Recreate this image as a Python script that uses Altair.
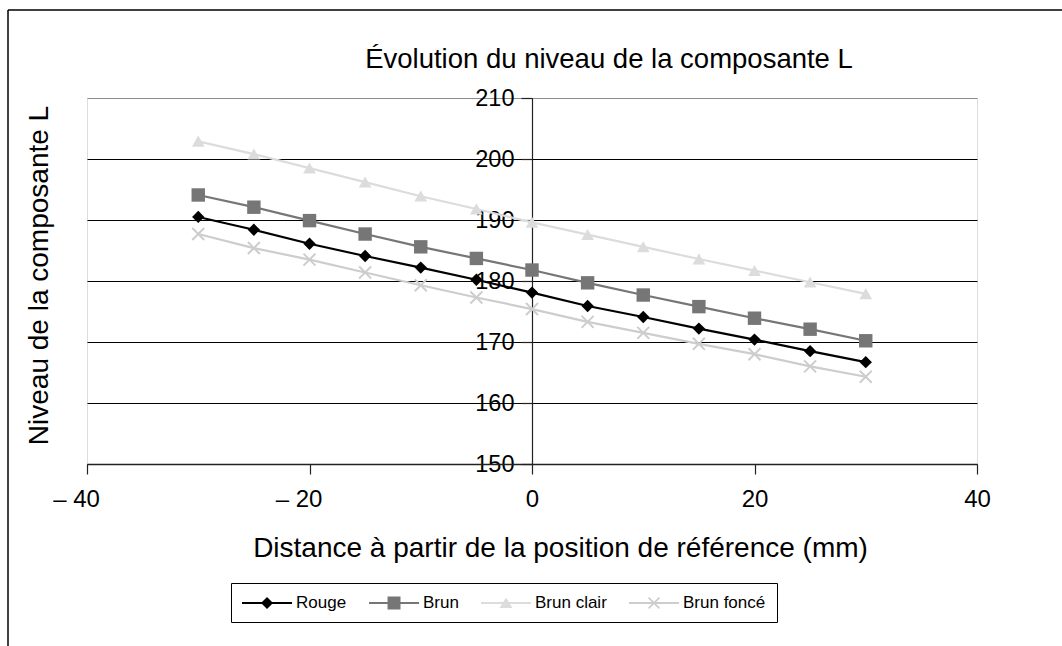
import altair as alt
import pandas as pd

# ---- data ----
distance = [-30, -25, -20, -15, -10, -5, 0, 5, 10, 15, 20, 25, 30]
rouge = [190.5, 188.4, 186.1, 184.1, 182.2, 180.2, 178.1, 175.9, 174.1, 172.2, 170.4, 168.5, 166.7]
brun = [194.1, 192.1, 189.9, 187.7, 185.6, 183.7, 181.8, 179.7, 177.7, 175.8, 173.9, 172.1, 170.2]
brun_clair = [202.9, 200.8, 198.5, 196.2, 193.9, 191.8, 189.6, 187.6, 185.6, 183.6, 181.7, 179.8, 177.9]
brun_fonce = [187.7, 185.4, 183.5, 181.4, 179.3, 177.3, 175.4, 173.3, 171.5, 169.7, 168.0, 166.0, 164.3]
series_names = ["Rouge", "Brun", "Brun clair", "Brun foncé"]
x_ticks = [-40, -20, 0, 20, 40]
y_ticks = [150, 160, 170, 180, 190, 200, 210]

colors = ["#000000", "#767676", "#dcdcdc", "#cdcdcd"]

rows = []
for name, vals in zip(series_names, [rouge, brun, brun_clair, brun_fonce]):
    for d, v in zip(distance, vals):
        rows.append({"Distance": d, "Niveau": v, "Série": name})
df = pd.DataFrame(rows)

FONT = "Liberation Sans"


def fmt(v):
    return ("%.3f" % v).rstrip("0").rstrip(".")


def poly(pts, dx=0.0):
    return "M" + "L".join(fmt(x + dx) + "," + fmt(y) for x, y in pts) + "Z"


def cross_pts(h, d):
    return [(-h, -h + d), (-h + d, -h), (0, -d), (h - d, -h), (h, -h + d), (d, 0),
            (h, h - d), (h - d, h), (0, d), (-h + d, h), (-h, h - d), (-d, 0)]


# marker symbols (unit coordinates)
m_diamond = poly([(0, -0.92), (0.92, 0), (0, 0.92), (-0.92, 0)])
m_square = poly([(-1, -1), (1, -1), (1, 1), (-1, 1)])
m_triangle = poly([(0, -0.85), (0.95, 0.8), (-0.95, 0.8)])
m_cross = poly(cross_pts(1.0, 0.21))
marker_shapes = [m_diamond, m_square, m_triangle, m_cross]

# legend symbols: a line with the marker on it (unit = 9 px)
LEG_SIZE = 324
cx = 1.78
lt = 0.11
line_rect = poly([(-1, -lt), (4.56, -lt), (4.56, lt), (-1, lt)])
leg_shapes = [
    line_rect + poly([(0, -0.67), (0.67, 0), (0, 0.67), (-0.67, 0)], cx),
    line_rect + poly([(-0.72, -0.72), (0.72, -0.72), (0.72, 0.72), (-0.72, 0.72)], cx),
    line_rect + poly([(0, -0.62), (0.72, 0.55), (-0.72, 0.55)], cx),
    line_rect + poly(cross_pts(0.67, 0.13), cx),
]

xscale = alt.Scale(domain=[-40, 40], nice=False, zero=False)
yscale = alt.Scale(domain=[150, 210], nice=False, zero=False)


def cscale():
    return alt.Scale(domain=series_names, range=colors)


x_enc = alt.X(
    "Distance:Q", scale=xscale,
    axis=alt.Axis(
        values=x_ticks, grid=False, title="Distance à partir de la position de référence (mm)",
        labelExpr="datum.value < 0 ? '\u2013 ' + abs(datum.value) : '' + datum.value",
        labelFlush=False,
        labelOffset=alt.condition("datum.value < 0", alt.value(-11), alt.value(0)),
        domainColor="#222222", domainWidth=1.5, tickColor="#222222", tickSize=10, tickWidth=1.2,
        labelFont=FONT, labelFontSize=24, labelColor="black", labelPadding=13,
        titleFont=FONT, titleFontSize=28, titleFontWeight="normal", titleColor="black",
        titlePadding=23, titleX=473, zindex=1,
    ),
)
y_enc = alt.Y(
    "Niveau:Q", scale=yscale,
    axis=alt.Axis(
        values=y_ticks, offset=-445, grid=True,
        gridColor=alt.condition("datum.value >= 210", alt.value("#8c8c8c"), alt.value("#000000")),
        gridWidth=1.2, labelFlush=False,
        domainColor="#222222", domainWidth=1.2, tickColor="#222222", tickSize=11, tickWidth=1.2,
        labelFont=FONT, labelFontSize=23.5, labelColor="black", labelPadding=7,
        title="Niveau de la  composante L",
        titleFont=FONT, titleFontSize=28, titleFontWeight="normal", titleColor="black",
        titleX=-493, titleY=177, titleAngle=-90, titleAlign="center", titleBaseline="middle",
    ),
)

lines = alt.Chart(df).mark_line(strokeWidth=2.2).encode(
    x=x_enc, y=y_enc,
    color=alt.Color("Série:N", scale=cscale(), legend=None),
)

points = alt.Chart(df).mark_point(filled=True, size=180, opacity=1).encode(
    x="Distance:Q", y="Niveau:Q",
    color=alt.Color("Série:N", scale=cscale(), legend=None),
    shape=alt.Shape("Série:N", scale=alt.Scale(domain=series_names, range=marker_shapes), legend=None),
)


def make_legend():
    return alt.Legend(title=None, orient="none", legendX=144, legendY=485,
                      direction="horizontal", strokeColor="black",
                      padding=11, labelFont=FONT, labelFontSize=17, labelColor="black",
                      symbolSize=LEG_SIZE, symbolStrokeWidth=0, columnPadding=22,
                      labelOffset=36)


legend_layer = alt.Chart(df).transform_filter("false").mark_point(
    filled=True, size=LEG_SIZE, opacity=1
).encode(
    x="Distance:Q", y="Niveau:Q",
    color=alt.Color("Série:N", scale=cscale(), legend=make_legend()),
    shape=alt.Shape("Série:N", scale=alt.Scale(domain=series_names, range=leg_shapes), legend=make_legend()),
)

frame_df = pd.DataFrame({"k": [0]})
frame_top = alt.Chart(frame_df).mark_rule(color="black", strokeWidth=1.5).encode(
    x=alt.value(-79), x2=alt.value(980), y=alt.value(-88)
)
frame_left = alt.Chart(frame_df).mark_rule(color="black", strokeWidth=1.5).encode(
    x=alt.value(-79), y=alt.value(-88), y2=alt.value(560)
)

chart = alt.layer(frame_top, frame_left, lines, points, legend_layer).resolve_scale(
    shape="independent", color="independent"
).properties(
    width=890, height=366,
    padding={"left": 87, "top": 98, "right": 85, "bottom": 182},
    autosize=alt.AutoSizeParams(type="none"),
    title=alt.TitleParams(
        "Évolution du niveau de la composante L", font=FONT, fontSize=27.5, fontWeight="normal",
        color="black", anchor="middle", dx=77, offset=0, dy=86, baseline="alphabetic",
    ),
).configure_view(
    stroke="#8c8c8c", strokeWidth=2
).configure(background="white")

chart.save("out.html", embed_options={"renderer": "svg", "actions": False})
